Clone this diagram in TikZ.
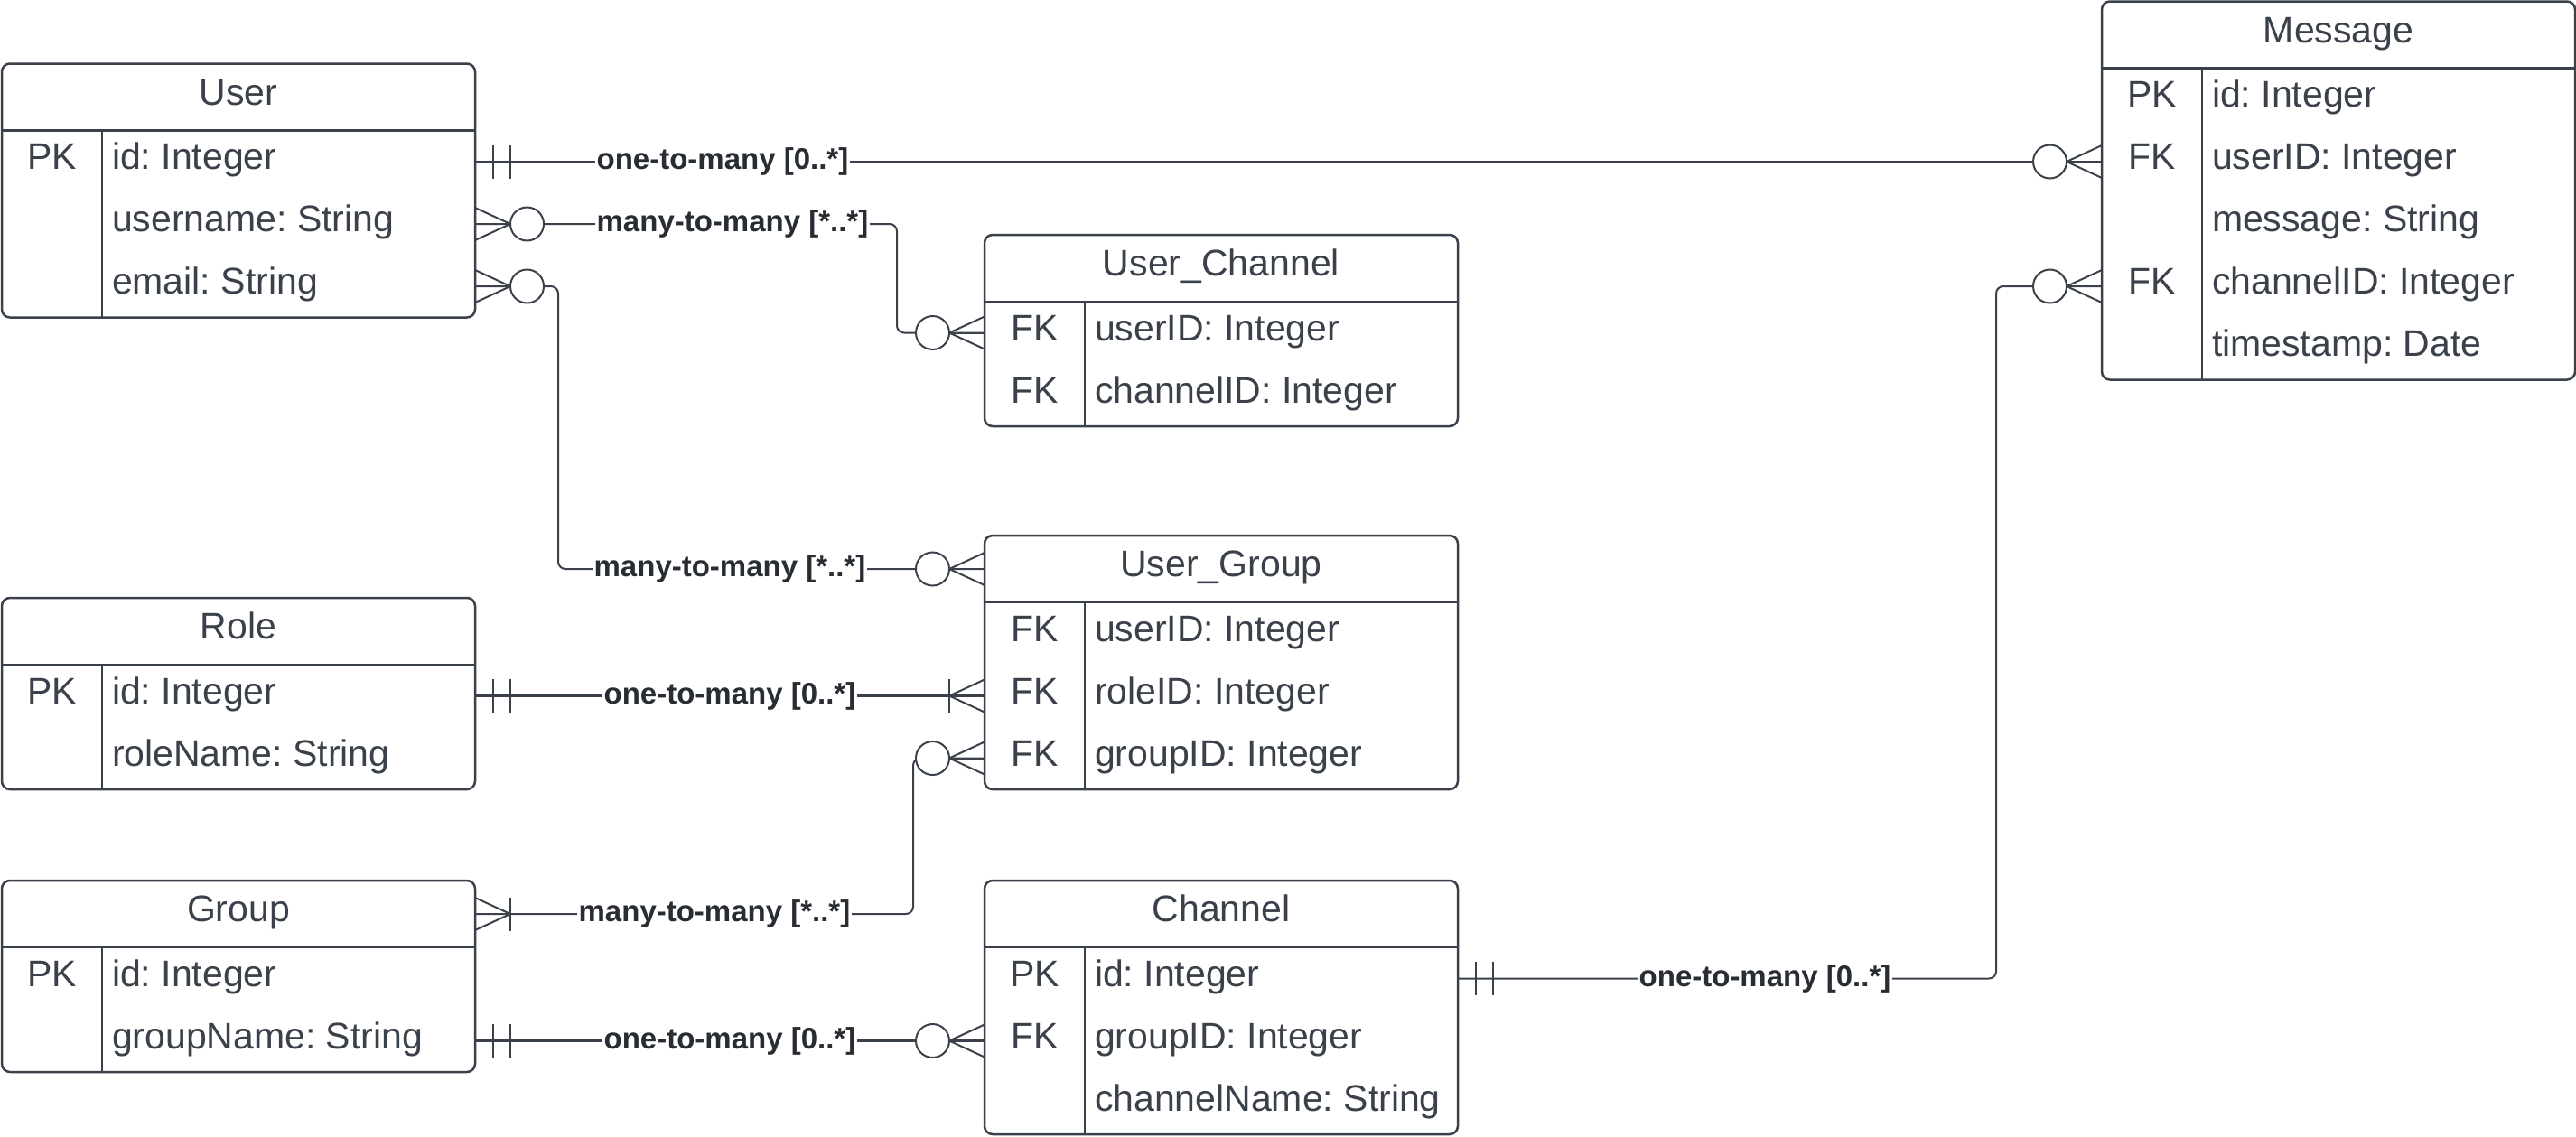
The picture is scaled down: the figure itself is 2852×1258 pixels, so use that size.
\documentclass[tikz,border=0pt]{standalone}
\usepackage{fontspec}
\setmainfont{Liberation Sans}
\usetikzlibrary{calc}
\definecolor{ink}{HTML}{3A414A}
\definecolor{inkd}{HTML}{282C33}
\frenchspacing

\tikzset{
  erhead/.style={rectangle, minimum width=524pt, minimum height=74pt, inner sep=0pt, outer sep=0pt},
  errow/.style={rectangle, minimum width=524pt, minimum height=69pt, inner sep=0pt, outer sep=0pt},
  ertext/.style={inner sep=0pt, outer sep=0pt, text=ink, font=\fontsize{41pt}{49pt}\selectfont\frenchspacing},
  erframe/.style={draw=ink, line width=2.5pt, rounded corners=9pt},
  erline/.style={draw=ink, line width=2.5pt},
  conn/.style={draw=ink, line width=2pt, rounded corners=8pt},
  connthick/.style={conn, line width=3.5pt},
  lbl/.style={fill=white, inner sep=1.5pt, text=inkd, font=\bfseries\fontsize{33pt}{40pt}\selectfont},
  deco/.style={draw=ink, line width=2pt},
}

% #1 name, #2 x, #3 y, #4 title, #5 number of rows, #6 rows key/field
\newcommand{\erentity}[6]{%
  \node[erhead, anchor=north west] (#1) at (#2,#3) {};
  \node[ertext, anchor=base] (#1-t) at ([yshift=-8.5pt]#1.center) {#4};
  \foreach \k/\f [count=\i] in {#6} {
    \path (#1.south west) ++(0,{(\i-1)*69}) node[errow, anchor=north west] (#1-\i) {};
    \node[ertext, anchor=base] (#1-\i-k) at ([xshift=55.5pt,yshift=-8.5pt]#1-\i.west) {\k};
    \node[ertext, anchor=base west] (#1-\i-f) at ([xshift=122pt,yshift=-8.5pt]#1-\i.west) {\f};
  }
  \draw[erframe] (#1.north west) rectangle (#1-#5.south east);
  \draw[erline] (#1.south west) -- (#1.south east);
  \draw[erline] ([xshift=111pt]#1.south west) -- ([xshift=111pt]#1-#5.south west);
}

% crow's foot decorations: #1 anchor on box edge, #2 outward direction (1 right, -1 left)
\newcommand{\zeromany}[2]{%
  \begin{scope}[shift={(#1)}, xscale=#2]
    \draw[deco] (0,-18) -- (39,0) -- (0,18);
    \draw[deco] (0,0) -- (39,0);
    \draw[deco, fill=white] (57.5,0) circle[radius=18.5];
  \end{scope}}
\newcommand{\onemany}[2]{%
  \begin{scope}[shift={(#1)}, xscale=#2]
    \draw[deco] (0,-18) -- (39,0) -- (0,18);
    \draw[deco] (0,0) -- (39,0);
    \draw[deco] (39,-18.5) -- (39,18.5);
  \end{scope}}
\newcommand{\exactone}[2]{%
  \begin{scope}[shift={(#1)}, xscale=#2]
    \draw[deco] (20,-18.5) -- (20,18.5);
    \draw[deco] (39,-18.5) -- (39,18.5);
  \end{scope}}

\begin{document}
\begin{tikzpicture}[x=1pt, y=-1pt]
\useasboundingbox[fill=white] (0,0) rectangle (2852,1258);

\erentity{user}{2}{70.5}{User}{3}{PK/id: Integer, {}/username: String, {}/email: String}
\erentity{uc}{1090}{260}{User\_Channel}{2}{FK/userID: Integer, FK/channelID: Integer}
\erentity{msg}{2327}{1.5}{Message}{5}{PK/id: Integer, FK/userID: Integer, {}/message: String, FK/channelID: Integer, {}/timestamp: Date}
\erentity{ug}{1090}{593}{User\_Group}{3}{FK/userID: Integer, FK/roleID: Integer, FK/groupID: Integer}
\erentity{role}{2}{662}{Role}{2}{PK/id: Integer, {}/roleName: String}
\erentity{group}{2}{975}{Group}{2}{PK/id: Integer, {}/groupName: String}
\erentity{channel}{1090}{975}{Channel}{3}{PK/id: Integer, FK/groupID: Integer, {}/channelName: String}

% bend coordinates
\coordinate (b2) at (993,0);
\coordinate (b3) at (618,0);
\coordinate (b5) at (1011,0);
\coordinate (b7) at (2210,0);

% connectors
\draw[conn] (user-1.east) -- (msg-2.west);
\draw[conn] (user-2.east) -- (user-2.east -| b2) -- (b2 |- uc-1.west) -- (uc-1.west);
\draw[conn] (user-3.east) -- (user-3.east -| b3) -- (b3 |- ug.west) -- (ug.west);
\draw[connthick] (role-1.east) -- (ug-2.west);
\draw[conn] (group.east) -- (group.east -| b5) -- (b5 |- ug-3.west) -- (ug-3.west);
\draw[connthick] (group-2.east) -- (channel-2.west);
\draw[conn] (channel-1.east) -- (channel-1.east -| b7) -- (b7 |- msg-4.west) -- (msg-4.west);

% ends
\exactone{user-1.east}{1}   \zeromany{msg-2.west}{-1}
\zeromany{user-2.east}{1}   \zeromany{uc-1.west}{-1}
\zeromany{user-3.east}{1}   \zeromany{ug.west}{-1}
\exactone{role-1.east}{1}   \onemany{ug-2.west}{-1}
\onemany{group.east}{1}     \zeromany{ug-3.west}{-1}
\exactone{group-2.east}{1}  \zeromany{channel-2.west}{-1}
\exactone{channel-1.east}{1} \zeromany{msg-4.west}{-1}

% labels
\node[lbl] (l1) at (800,179) {one-to-many [0..*]};
\node[lbl] (l2) at (811,248) {many-to-many [*..*]};
\node[lbl] (l3) at (808,630) {many-to-many [*..*]};
\node[lbl] (l4) at (808,770.5) {one-to-many [0..*]};
\node[lbl] (l5) at (791,1012) {many-to-many [*..*]};
\node[lbl] (l6) at (808,1152.5) {one-to-many [0..*]};
\node[lbl] (l7) at (1954,1083.5) {one-to-many [0..*]};
\end{tikzpicture}
\end{document}
